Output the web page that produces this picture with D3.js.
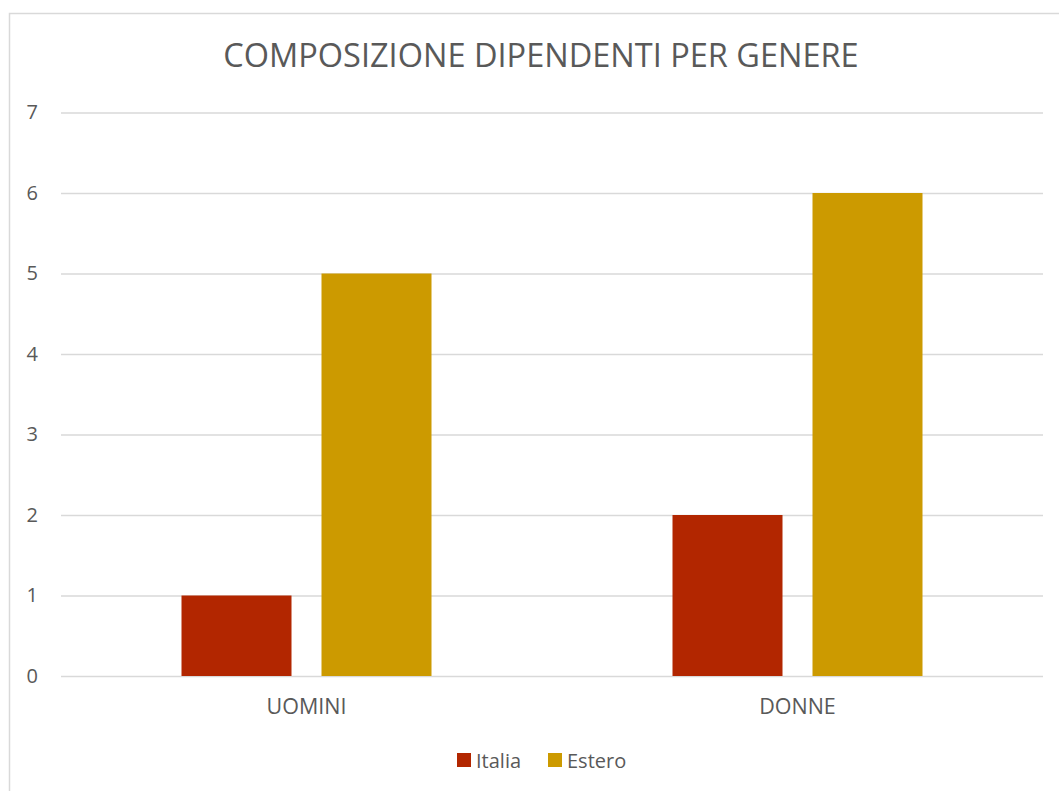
<!DOCTYPE html>
<html>
<head>
<meta charset="utf-8">
<script src="https://cdn.jsdelivr.net/npm/d3@7"></script>
<style>
html,body{margin:0;padding:0;background:#fff;}
svg{display:block;font-family:"Open Sans","Noto Sans",sans-serif;}
svg text{font-family:"Open Sans","Noto Sans",sans-serif;}
</style>
</head>
<body>
<svg id="chart" width="1059" height="791"></svg>
<script>
const title = "COMPOSIZIONE DIPENDENTI PER GENERE";
const categories = ["UOMINI", "DONNE"];
const seriesNames = ["Italia", "Estero"];
const italiaValues = [1, 2];
const esteroValues = [5, 6];
const yTicks = [0, 1, 2, 3, 4, 5, 6, 7];
const colors = ["#B22600", "#CC9A00"];

const seriesValues = [italiaValues, esteroValues];
const data = categories.map((c, i) => ({
  cat: c,
  vals: seriesNames.map((s, j) => ({ key: s, value: seriesValues[j][i], color: colors[j] }))
}));

const svg = d3.select("#chart");
const W = 1059, H = 791;
const FONT = '"Open Sans","Noto Sans",sans-serif';

// chart border
svg.append("rect").attr("x", 9.5).attr("y", 13.5).attr("width", W + 10).attr("height", H + 10)
  .attr("fill", "#fff").attr("stroke", "#d9d9d9").attr("stroke-width", 1.5);

const plot = { left: 61, right: 1043, top: 112.5, bottom: 676 };

const y = d3.scaleLinear().domain([0, 7]).range([plot.bottom, plot.top]);
const x0 = d3.scaleBand().domain(categories).range([plot.left, plot.right]).padding(0);
const groupW = 250;
const x1 = d3.scaleBand().domain(seriesNames)
  .range([x0.bandwidth() / 2 - groupW / 2, x0.bandwidth() / 2 + groupW / 2])
  .paddingInner(30 / 140).paddingOuter(0);

// gridlines
const yAxis = d3.axisLeft(y).tickValues(yTicks).tickSize(-(plot.right - plot.left)).tickFormat(d3.format("d"));
const gy = svg.append("g").attr("transform", `translate(${plot.left},0)`).call(yAxis)
  .attr("font-family", FONT).attr("font-size", 20);
gy.select(".domain").remove();
gy.selectAll(".tick line").attr("stroke", "#d9d9d9").attr("stroke-width", 1.5);
gy.selectAll(".tick text").attr("fill", "#595959").attr("text-anchor", "end").attr("x", -23);

// bars
const groups = svg.append("g").selectAll("g").data(data).join("g")
  .attr("transform", d => `translate(${x0(d.cat)},0)`);
groups.selectAll("rect").data(d => d.vals).join("rect")
  .attr("x", d => x1(d.key))
  .attr("width", x1.bandwidth())
  .attr("y", d => y(d.value))
  .attr("height", d => y(0) - y(d.value))
  .attr("fill", d => d.color);

// x axis labels
const xAxis = d3.axisBottom(x0).tickSize(0).tickPadding(0);
const gx = svg.append("g").attr("transform", `translate(0,${plot.bottom})`).call(xAxis)
  .attr("font-family", FONT).attr("font-size", 21.5);
gx.select(".domain").remove();
gx.selectAll(".tick text").attr("fill", "#595959").attr("dy", null).attr("y", 38);

// title
svg.append("text").attr("x", 541).attr("y", 67).attr("text-anchor", "middle")
  .attr("fill", "#595959").attr("font-size", 32.5).text(title);

// legend
const legendX = [457, 548];
const lg = svg.append("g").selectAll("g").data(seriesNames).join("g")
  .attr("transform", (d, i) => `translate(${legendX[i]},753)`);
lg.append("rect").attr("width", 14).attr("height", 14).attr("fill", (d, i) => colors[i]);
lg.append("text").attr("x", 19).attr("y", 14.5).attr("fill", "#595959").attr("font-size", 20).text(d => d);
</script>
</body>
</html>
